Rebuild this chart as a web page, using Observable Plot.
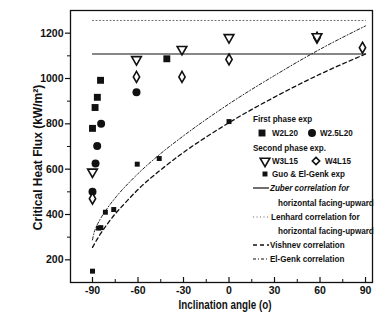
<!DOCTYPE html>
<html><head><meta charset="utf-8">
<script src="https://cdn.jsdelivr.net/npm/d3@7"></script>
<script src="https://cdn.jsdelivr.net/npm/@observablehq/plot@0.6"></script>
<style>body{margin:0;background:#fff}svg{display:block}</style>
</head><body><div id="chart"></div>
<script>
// Experimental data (inclination angle in degrees, CHF in kW/m2)
const w2l20Angle = [-90, -88.3, -86.8, -84.7, -41];
const w2l20Chf = [780, 872, 917, 992, 1087];
const w25l20Angle = [-90, -88, -86.9, -84.3, -61];
const w25l20Chf = [500, 625, 702, 800, 939];
const w3l15Angle = [-90, -61, -31, 0, 58];
const w3l15Chf = [588, 1084, 1129, 1181, 1185];
const w4l15Angle = [-90, -61, -31, 0, 58, 88];
const w4l15Chf = [470, 1007, 1007, 1084, 1180, 1136];
const guoAngle = [-90, -86, -84.5, -81.5, -76, -60.5, -46, 0];
const guoChf = [150, 340, 342, 410, 422, 622, 647, 810];
// Correlations
const zuberAngle = [-90, 90];
const zuberChf = [1108, 1108];
const lenhardAngle = [-90, 90];
const lenhardChf = [1256, 1256];
const vishnevAngle = [-90, -87, -85, -80, -75, -70, -60, -45, -30, -15, 0, 30, 60, 90];
const vishnevChf = [255, 290, 312, 360, 403, 440, 510, 597, 674, 742, 805, 918, 1019, 1108];
const elgenkAngle = [-90, -89, -88, -85, -80, -75, -60, -45, -30, 0, 30, 60, 90];
const elgenkChf = [288, 319, 338, 378, 430, 473, 580, 669, 747, 888, 1013, 1129, 1232];
// Ticks
const xTicks = [-90, -60, -30, 0, 30, 60, 90];
const xMinor = [-75, -45, -15, 15, 45, 75];
const yTicks = [200, 400, 600, 800, 1000, 1200];
const yMinor = [300, 500, 700, 900, 1100];
const xTitle = "Inclination angle (o)";
const yTitle = "Critical Heat Flux (kW/m²)";

const pts = (a, b) => a.map((x, i) => ({x, y: b[i]}));

const innerH = 323 - 10 - 41;
const chart = Plot.plot({
  width: 374, height: 323,
  marginLeft: 70, marginRight: 2, marginTop: 10, marginBottom: 41,
  style: {fontFamily: "'Liberation Sans', Arial, sans-serif", fontWeight: "bold", fontSize: "10.5px", background: "#fff", color: "#111"},
  x: {domain: [-104.5, 94.6]},
  y: {domain: [100, 1300]},
  marks: [
    Plot.axisY({ticks: yTicks, tickSize: 5, tickPadding: 2, tickFormat: d => String(d), label: null, strokeWidth: 1.2}),
    Plot.tickY(yMinor, {y: d => d, insetRight: 374 - 72 - 3, dx: -3, stroke: "#111"}),
    Plot.axisX({ticks: xTicks, tickSize: 0, tickPadding: 4, tickFormat: d => String(d), label: null, fontSize: 10.5}),
    Plot.tickX(xTicks, {x: d => d, insetTop: innerH - 5, stroke: "#111", strokeWidth: 1.2}),
    Plot.tickX(xMinor, {x: d => d, insetTop: innerH - 3, stroke: "#111"}),
    Plot.frame({stroke: "#111", strokeWidth: 1.3}),
    Plot.line(pts(lenhardAngle, lenhardChf), {x: "x", y: "y", stroke: "#666", strokeWidth: 1, strokeDasharray: "1,2.5"}),
    Plot.line(pts(zuberAngle, zuberChf), {x: "x", y: "y", stroke: "#111", strokeWidth: 1.2}),
    Plot.line(pts(vishnevAngle, vishnevChf), {x: "x", y: "y", stroke: "#111", strokeWidth: 1.3, strokeDasharray: "4,3", curve: "monotone-x"}),
    Plot.line(pts(elgenkAngle, elgenkChf), {x: "x", y: "y", stroke: "#222", strokeWidth: 1, strokeDasharray: "3,2,1,2", curve: "monotone-x"}),
    Plot.dot(pts(guoAngle, guoChf), {x: "x", y: "y", symbol: "square", r: 2.8, fill: "#111"}),
    Plot.dot(pts(w2l20Angle, w2l20Chf), {x: "x", y: "y", symbol: "square", r: 3.9, fill: "#111"}),
    Plot.dot(pts(w25l20Angle, w25l20Chf), {x: "x", y: "y", symbol: "circle", r: 4, fill: "#111"}),
    Plot.dot(pts(w4l15Angle, w4l15Chf), {x: "x", y: "y", symbol: "diamond", r: 3.3, fill: "#fff", stroke: "#111", strokeWidth: 1.6}),
    Plot.dot(pts(w3l15Angle, w3l15Chf), {x: "x", y: "y", symbol: "triangle", rotate: 180, r: 3.6, fill: "#fff", stroke: "#111", strokeWidth: 1.6}),
    Plot.text([yTitle], {frameAnchor: "left", textAnchor: "middle", dx: -32, dy: 11, rotate: -90, fontSize: 12, fontWeight: "bold"})
  ]
});
document.getElementById("chart").append(chart);

const svg = d3.select(chart);
// x-axis title (condensed look of the original)
svg.append("text").attr("transform", "translate(225,305) scale(0.82,1)")
  .attr("text-anchor", "middle").attr("dy", "0.35em")
  .attr("font-size", 12).attr("font-weight", "bold").attr("fill", "#111").text(xTitle);

// Legend
const lg = svg.append("g")
  .attr("font-family", "'Liberation Sans', Arial, sans-serif")
  .attr("font-weight", "bold").attr("font-size", 9.5).attr("fill", "#111");
const txt = (x, y, s, italic) => lg.append("text").attr("transform", `translate(${x},${y}) scale(0.85,1)`)
  .attr("text-anchor", "start").attr("dy", "0.35em")
  .attr("font-style", italic ? "italic" : null).text(s);
const sym = (x, y, type, area, filled, rot) => lg.append("path")
  .attr("d", d3.symbol(type, area)())
  .attr("transform", `translate(${x},${y})` + (rot ? ` rotate(${rot})` : ""))
  .attr("fill", filled ? "#111" : "#fff").attr("stroke", filled ? "none" : "#111").attr("stroke-width", 1.6);
const ln = (y, dash, w, c) => lg.append("line").attr("x1", 253).attr("x2", 269).attr("y1", y).attr("y2", y)
  .attr("stroke", c || "#111").attr("stroke-width", w).attr("stroke-dasharray", dash);

txt(253, 119, "First phase exp");
sym(262, 133, d3.symbolSquare, Math.PI * 3.9 * 3.9, true);
txt(272, 133, "W2L20");
sym(312, 133, d3.symbolCircle, Math.PI * 16, true);
txt(320, 133, "W2.5L20");
txt(253, 148, "Second phase exp.");
sym(265, 161, d3.symbolTriangle, Math.PI * 3.6 * 3.6, false, 180);
txt(272, 161, "W3L15");
sym(316, 161, d3.symbolDiamond2, Math.PI * 3.3 * 3.3, false);
txt(325, 161, "W4L15");
sym(265, 174, d3.symbolSquare, Math.PI * 2.8 * 2.8, true);
txt(272, 174, "Guo & El-Genk exp");
ln(188, null, 1.2);
txt(270, 188, "Zuber correlation for", true);
txt(278, 203, "horizontal facing-upward");
ln(217, "1,2.5", 1, "#666");
txt(271, 217, "Lenhard correlation for");
txt(278, 231, "horizontal facing-upward");
ln(245, "4,3", 1.3);
txt(270, 245, "Vishnev correlation");
ln(259, "3,2,1,2", 1);
txt(270, 259, "El-Genk correlation");
</script>
</body></html>
